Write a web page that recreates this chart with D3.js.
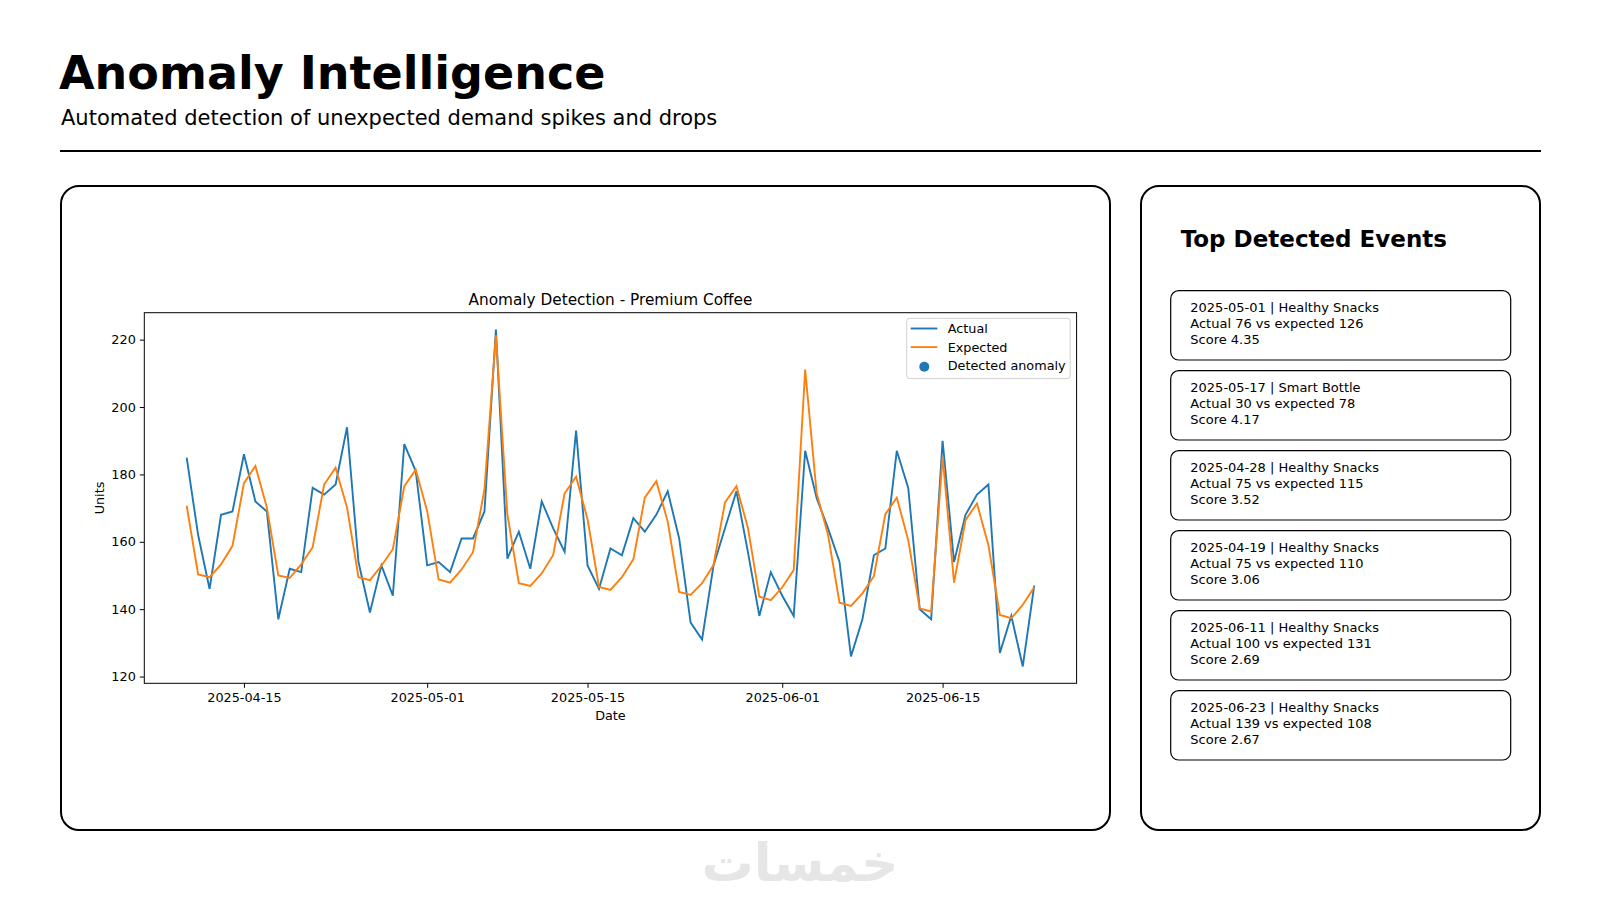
<!DOCTYPE html>
<html>
<head>
<meta charset="utf-8">
<script src="https://cdn.jsdelivr.net/npm/d3@7"></script>
<style>
  html, body { margin: 0; padding: 0; background: #fff; }
  svg { display: block; font-family: "DejaVu Sans", sans-serif; }
</style>
</head>
<body>
<div id="chart"></div>
<script>
// Anomaly dashboard: one line chart panel + list of top events

const startDate = '2025-04-10';
const endDate = '2025-06-23';

const actual = [185, 162, 146, 168, 169, 186, 172, 169, 137, 152, 151, 176, 174, 177, 194,
  154, 139, 153, 144, 189, 181, 153, 154, 151, 161, 161, 169, 223, 155, 163,
  152, 172, 164, 157, 193, 153, 146, 158, 156, 167, 163, 168, 175, 161, 136,
  131, 153, 164, 175, 157, 138, 151, 144, 138, 187, 173, 164, 154, 126, 137,
  156, 158, 187, 176, 140, 137, 190, 154, 168, 174, 177, 127, 138, 123, 147];

const expected = [170.7, 150.3, 149.5, 153.3, 158.8, 177.4, 182.5, 170.2, 150.0, 149.3,
  153.3, 158.4, 177.0, 182.0, 170.2, 149.5, 148.6, 152.9, 157.8, 176.5,
  181.4, 169.1, 148.8, 147.9, 151.8, 156.9, 175.6, 221.3, 168.1, 147.7,
  146.9, 150.6, 156.1, 174.4, 179.3, 166.7, 146.6, 145.7, 149.5, 154.8,
  173.1, 178.0, 166.0, 145.1, 144.2, 147.7, 153.1, 171.7, 176.5, 164.2,
  143.7, 142.7, 146.5, 151.6, 211.1, 174.5, 162.0, 141.9, 141.0, 144.7,
  149.8, 168.2, 173.1, 160.5, 140.2, 139.3, 185.2, 147.9, 166.4, 171.4,
  159.0, 138.3, 137.3, 141.3, 146.5];

const anomalies = [];   // none flagged for this product

const xTickLabels = ['2025-04-15', '2025-05-01', '2025-05-15', '2025-06-01', '2025-06-15'];
const yTicks = [120, 140, 160, 180, 200, 220];

const eventDates = ['2025-05-01', '2025-05-17', '2025-04-28', '2025-04-19', '2025-06-11', '2025-06-23'];
const eventProducts = ['Healthy Snacks', 'Smart Bottle', 'Healthy Snacks', 'Healthy Snacks', 'Healthy Snacks', 'Healthy Snacks'];
const eventActual = [76, 30, 75, 75, 100, 139];
const eventExpected = [126, 78, 115, 110, 131, 108];
const eventScore = [4.35, 4.17, 3.52, 3.06, 2.69, 2.67];

const W = 1600, H = 900;
const parse = d3.utcParse('%Y-%m-%d');
const dates = d3.utcDay.range(parse(startDate), d3.utcDay.offset(parse(endDate), 1));
const rows = dates.map((d, i) => ({ date: d, actual: actual[i], expected: expected[i] }));

const svg = d3.select('#chart').append('svg')
  .attr('width', W)
  .attr('height', H);

svg.append('rect').attr('width', W).attr('height', H).attr('fill', '#fff');

// Header
svg.append('text')
  .attr('x', 59).attr('y', 89)
  .attr('font-size', 46).attr('font-weight', 'bold')
  .text('Anomaly Intelligence');

svg.append('text')
  .attr('x', 61).attr('y', 124.5)
  .attr('font-size', 21)
  .text('Automated detection of unexpected demand spikes and drops');

svg.append('line')
  .attr('x1', 60).attr('x2', 1541)
  .attr('y1', 151).attr('y2', 151)
  .attr('stroke', '#000').attr('stroke-width', 2);

// Panels
const panels = [
  { x: 61, y: 186, w: 1049, h: 644 },
  { x: 1141, y: 186, w: 399, h: 644 }
];
svg.selectAll('.panel')
  .data(panels)
  .enter().append('rect')
  .attr('class', 'panel')
  .attr('x', d => d.x).attr('y', d => d.y)
  .attr('width', d => d.w).attr('height', d => d.h)
  .attr('rx', 18).attr('ry', 18)
  .attr('fill', 'none')
  .attr('stroke', '#000')
  .attr('stroke-width', 2);

// ---- Line chart ----
const plot = { left: 144.3, right: 1076.6, top: 312.7, bottom: 683.3 };

const tExtent = d3.extent(dates);
const tPad = (tExtent[1] - tExtent[0]) * 0.05;
const x = d3.scaleUtc()
  .domain([new Date(+tExtent[0] - tPad), new Date(+tExtent[1] + tPad)])
  .range([plot.left, plot.right]);

const yMin = d3.min([d3.min(actual), d3.min(expected)]);
const yMax = d3.max([d3.max(actual), d3.max(expected)]);
const yPad = (yMax - yMin) * 0.05;
const y = d3.scaleLinear()
  .domain([yMin - yPad, yMax + yPad])
  .range([plot.bottom, plot.top]);

const chart = svg.append('g');

svg.append('clipPath').attr('id', 'plot-clip')
  .append('rect')
  .attr('x', plot.left).attr('y', plot.top)
  .attr('width', plot.right - plot.left).attr('height', plot.bottom - plot.top);

const xAxis = d3.axisBottom(x)
  .tickValues(xTickLabels.map(parse))
  .tickFormat(d3.utcFormat('%Y-%m-%d'))
  .tickSize(4.5)
  .tickPadding(5);

const yAxis = d3.axisLeft(y)
  .tickValues(yTicks)
  .tickSize(4.5)
  .tickPadding(4);

const gx = chart.append('g')
  .attr('transform', `translate(0,${plot.bottom})`)
  .call(xAxis);
const gy = chart.append('g')
  .attr('transform', `translate(${plot.left},0)`)
  .call(yAxis);

[gx, gy].forEach(g => {
  g.select('.domain').remove();
  g.selectAll('.tick line').attr('stroke', '#000').attr('stroke-width', 1);
  g.selectAll('.tick text')
    .attr('fill', '#000')
    .attr('font-size', 12.8)
    .attr('font-family', '"DejaVu Sans", sans-serif');
});

const lineActual = d3.line().x(d => x(d.date)).y(d => y(d.actual));
const lineExpected = d3.line().x(d => x(d.date)).y(d => y(d.expected));

const lines = chart.append('g').attr('clip-path', 'url(#plot-clip)');
lines.append('path')
  .datum(rows)
  .attr('fill', 'none')
  .attr('stroke', '#1f77b4')
  .attr('stroke-width', 1.9)
  .attr('d', lineActual);
lines.append('path')
  .datum(rows)
  .attr('fill', 'none')
  .attr('stroke', '#ff7f0e')
  .attr('stroke-width', 1.9)
  .attr('d', lineExpected);
lines.selectAll('.anomaly')
  .data(anomalies)
  .enter().append('circle')
  .attr('class', 'anomaly')
  .attr('cx', d => x(parse(d.date)))
  .attr('cy', d => y(d.value))
  .attr('r', 4.5)
  .attr('fill', '#1f77b4');

// frame
chart.append('rect')
  .attr('x', plot.left).attr('y', plot.top)
  .attr('width', plot.right - plot.left).attr('height', plot.bottom - plot.top)
  .attr('fill', 'none').attr('stroke', '#000').attr('stroke-width', 1);

const midX = (plot.left + plot.right) / 2;
chart.append('text')
  .attr('x', midX).attr('y', 304.5)
  .attr('text-anchor', 'middle')
  .attr('font-size', 15.3)
  .text('Anomaly Detection - Premium Coffee');

chart.append('text')
  .attr('x', midX).attr('y', 719.5)
  .attr('text-anchor', 'middle')
  .attr('font-size', 12.8)
  .text('Date');

chart.append('text')
  .attr('transform', `translate(104,${(plot.top + plot.bottom) / 2}) rotate(-90)`)
  .attr('text-anchor', 'middle')
  .attr('font-size', 12.8)
  .text('Units');

// legend
const legendItems = [
  { label: 'Actual', color: '#1f77b4', kind: 'line' },
  { label: 'Expected', color: '#ff7f0e', kind: 'line' },
  { label: 'Detected anomaly', color: '#1f77b4', kind: 'dot' }
];
const legend = chart.append('g');
legend.append('rect')
  .attr('x', 906.7).attr('y', 318.3)
  .attr('width', 163.5).attr('height', 60.3)
  .attr('rx', 3)
  .attr('fill', '#fff').attr('fill-opacity', 0.8)
  .attr('stroke', '#d0d0d0').attr('stroke-width', 1);

const li = legend.selectAll('.li')
  .data(legendItems)
  .enter().append('g')
  .attr('class', 'li')
  .attr('transform', (d, i) => `translate(0,${333 + i * 18.6})`);
li.filter(d => d.kind === 'line').append('line')
  .attr('x1', 910.7).attr('x2', 937.3)
  .attr('y1', -4.5).attr('y2', -4.5)
  .attr('stroke', d => d.color).attr('stroke-width', 1.9);
li.filter(d => d.kind === 'dot').append('circle')
  .attr('cx', 924.3).attr('cy', -3.5)
  .attr('r', 5)
  .attr('fill', d => d.color);
li.append('text')
  .attr('x', 947.7)
  .attr('font-size', 12.8)
  .text(d => d.label);

// ---- Top events ----
svg.append('text')
  .attr('x', 1180.7).attr('y', 246.7)
  .attr('font-size', 23).attr('font-weight', 'bold')
  .text('Top Detected Events');

const events = eventDates.map((d, i) => ({
  date: d,
  product: eventProducts[i],
  actual: eventActual[i],
  expected: eventExpected[i],
  score: eventScore[i]
}));

const card = svg.selectAll('.card')
  .data(events)
  .enter().append('g')
  .attr('class', 'card')
  .attr('transform', (d, i) => `translate(1170.7,${290.7 + i * 80})`);

card.append('rect')
  .attr('width', 340).attr('height', 69.3)
  .attr('rx', 8).attr('ry', 8)
  .attr('fill', '#fff')
  .attr('stroke', '#000')
  .attr('stroke-width', 1.2);

card.append('text')
  .attr('font-size', 13)
  .selectAll('tspan')
  .data(d => [
    `${d.date} | ${d.product}`,
    `Actual ${d.actual} vs expected ${d.expected}`,
    `Score ${d.score.toFixed(2)}`
  ])
  .enter().append('tspan')
  .attr('x', 19.6)
  .attr('y', (t, i) => 21 + i * 16)
  .text(t => t);

// watermark
svg.append('text')
  .attr('x', 800).attr('y', 881)
  .attr('text-anchor', 'middle')
  .attr('font-size', 52)
  .attr('font-weight', 'bold')
  .attr('fill', '#e6e6e6')
  .text('خمسات');
</script>
</body>
</html>
